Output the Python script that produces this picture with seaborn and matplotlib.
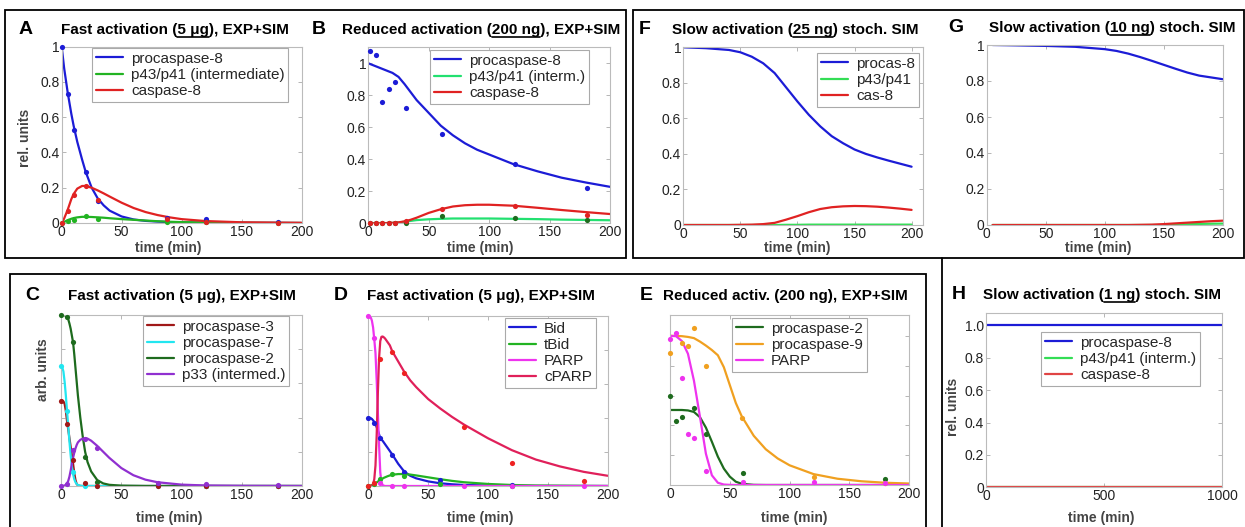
import matplotlib
matplotlib.use("Agg")
import matplotlib.pyplot as plt
import seaborn as sns
from matplotlib.lines import Line2D
from matplotlib.patches import Rectangle
from matplotlib.font_manager import FontProperties

# ---------------- DATA ----------------
# Panel A : fast activation (5 ug)
A_sim_t = [0, 2, 5, 8, 10, 13, 17, 20, 25, 30, 35, 40, 50, 60, 70, 80, 90, 100, 120, 150, 200]
A_pro8 = [1.0, 0.88, 0.74, 0.62, 0.55, 0.46, 0.36, 0.29, 0.20, 0.14, 0.10, 0.07, 0.037, 0.02, 0.012, 0.008, 0.005, 0.003, 0.002, 0.001, 0.0]
A_p43 = [0.0, 0.006, 0.016, 0.024, 0.028, 0.032, 0.035, 0.035, 0.034, 0.032, 0.03, 0.027, 0.022, 0.018, 0.014, 0.01, 0.007, 0.005, 0.003, 0.001, 0.0]
A_cas8 = [0.0, 0.025, 0.075, 0.135, 0.165, 0.195, 0.21, 0.21, 0.2, 0.185, 0.168, 0.15, 0.115, 0.085, 0.062, 0.045, 0.032, 0.022, 0.011, 0.004, 0.001]
A_exp_t = [0, 5, 10, 20, 30, 88, 120, 180]
A_pro8_exp = [1.0, 0.73, 0.53, 0.29, 0.125, 0.028, 0.02, 0.006]
A_p43_exp = [0.0, 0.01, 0.019, 0.038, 0.025, 0.005, 0.003, 0.001]
A_cas8_exp = [0.0, 0.066, 0.16, 0.21, 0.13, 0.025, 0.006, 0.002]

# Panel B : reduced activation (200 ng)
B_sim_t = [0, 10, 20, 25, 30, 35, 40, 50, 60, 70, 80, 90, 100, 120, 140, 160, 180, 200]
B_pro8 = [1.0, 0.97, 0.94, 0.915, 0.87, 0.82, 0.77, 0.69, 0.61, 0.55, 0.5, 0.46, 0.43, 0.37, 0.325, 0.285, 0.255, 0.228]
B_p43 = [0.0, 0.0, 0.002, 0.005, 0.01, 0.015, 0.02, 0.025, 0.028, 0.03, 0.03, 0.03, 0.03, 0.028, 0.026, 0.023, 0.021, 0.019]
B_cas8 = [0.0, 0.0, 0.003, 0.006, 0.012, 0.022, 0.035, 0.065, 0.088, 0.105, 0.113, 0.116, 0.116, 0.11, 0.097, 0.083, 0.07, 0.058]
B_exp_t = [1, 6, 11, 17, 22, 31, 61, 121, 181]
B_pro8_exp = [1.08, 1.055, 0.76, 0.84, 0.885, 0.72, 0.56, 0.37, 0.22]
B_p43_exp = [0.0, 0.0, 0.0, 0.0, 0.0, 0.005, 0.043, 0.032, 0.02]
B_cas8_exp = [0.0, 0.0, 0.0, 0.003, 0.003, 0.015, 0.087, 0.107, 0.052]

# Panel F : slow activation (25 ng), stochastic simulation
F_t = [0, 20, 40, 50, 60, 70, 80, 90, 100, 110, 120, 130, 140, 150, 160, 170, 180, 190, 200]
F_pro8 = [1.0, 0.995, 0.985, 0.972, 0.947, 0.91, 0.855, 0.775, 0.695, 0.62, 0.555, 0.5, 0.46, 0.425, 0.4, 0.38, 0.362, 0.345, 0.328]
F_p43 = [0, 0, 0, 0, 0, 0, 0, 0.001, 0.001, 0.002, 0.002, 0.002, 0.002, 0.002, 0.002, 0.002, 0.002, 0.002, 0.002]
F_cas8 = [0, 0, 0, 0.001, 0.002, 0.005, 0.012, 0.03, 0.05, 0.072, 0.09, 0.1, 0.105, 0.107, 0.106, 0.103, 0.098, 0.092, 0.085]

# Panel G : slow activation (10 ng), stochastic simulation
G_t = [5, 25, 50, 75, 100, 110, 120, 130, 140, 150, 160, 170, 180, 190, 200]
G_pro8 = [1.0, 0.998, 0.995, 0.99, 0.977, 0.967, 0.952, 0.933, 0.912, 0.89, 0.868, 0.847, 0.83, 0.82, 0.81]
G_p43 = [0, 0, 0, 0, 0, 0, 0, 0, 0, 0, 0.002, 0.004, 0.006, 0.007, 0.008]
G_cas8 = [0, 0, 0, 0, 0, 0, 0, 0.001, 0.002, 0.005, 0.009, 0.013, 0.017, 0.021, 0.024]

# Panel H : slow activation (1 ng), stochastic simulation
H_t = [0, 1000]
H_pro8 = [1.0, 1.0]
H_p43 = [0.0, 0.0]
H_cas8 = [0.0, 0.0]

# Panel C : fast activation (5 ug)
C_sim_t = [0, 1, 2, 3, 4, 5, 6, 7, 8, 9, 10, 11, 12, 13, 14, 16, 18, 20, 22, 25, 30, 35, 40, 50, 60, 70, 80, 100, 120, 150, 200]
C_pro3 = [0.5, 0.5, 0.495, 0.48, 0.44, 0.38, 0.33, 0.28, 0.23, 0.18, 0.13, 0.075, 0.035, 0.012, 0.004, 0.0, 0, 0, 0, 0, 0, 0, 0, 0, 0, 0, 0, 0, 0, 0, 0]
C_pro7 = [0.70, 0.695, 0.67, 0.61, 0.53, 0.44, 0.35, 0.26, 0.18, 0.115, 0.07, 0.04, 0.022, 0.012, 0.006, 0.002, 0, 0, 0, 0, 0, 0, 0, 0, 0, 0, 0, 0, 0, 0, 0]
C_pro2 = [1.0, 1.0, 1.0, 0.998, 0.995, 0.99, 0.975, 0.95, 0.92, 0.88, 0.84, 0.77, 0.69, 0.61, 0.53, 0.40, 0.29, 0.20, 0.14, 0.085, 0.035, 0.015, 0.007, 0.002, 0.001, 0, 0, 0, 0, 0, 0]
C_p33 = [0, 0, 0.001, 0.003, 0.007, 0.015, 0.03, 0.055, 0.09, 0.13, 0.165, 0.195, 0.22, 0.24, 0.255, 0.27, 0.277, 0.279, 0.277, 0.265, 0.235, 0.2, 0.165, 0.105, 0.063, 0.037, 0.022, 0.008, 0.003, 0.001, 0.0]
C_exp_t = [0, 5, 10, 20, 30, 80, 120, 180]
C_pro3_exp = [0.5, 0.365, 0.15, 0.015, 0.0, 0.0, 0.0, 0.0]
C_pro7_exp = [0.70, 0.44, 0.08, 0.0, 0.0, 0.0, 0.0, 0.0]
C_pro2_exp = [1.0, 0.99, 0.845, 0.17, 0.025, 0.005, 0.0, 0.0]
C_p33_exp = [0.0, 0.01, 0.21, 0.275, 0.22, 0.02, 0.012, 0.006]

# Panel D : fast activation (5 ug)
D_sim_t = [0, 1, 2, 3, 4, 5, 6, 7, 8, 9, 10, 11, 12, 13, 14, 16, 18, 20, 25, 30, 35, 40, 50, 60, 70, 80, 100, 120, 140, 160, 180, 200]
D_bid = [0.4, 0.4, 0.398, 0.393, 0.385, 0.375, 0.362, 0.345, 0.325, 0.303, 0.28, 0.272, 0.265, 0.255, 0.245, 0.225, 0.205, 0.185, 0.13, 0.085, 0.06, 0.045, 0.027, 0.016, 0.01, 0.006, 0.003, 0.001, 0, 0, 0, 0]
D_tbid = [0, 0.001, 0.003, 0.005, 0.008, 0.012, 0.016, 0.021, 0.026, 0.031, 0.036, 0.04, 0.044, 0.048, 0.051, 0.057, 0.062, 0.066, 0.07, 0.07, 0.067, 0.062, 0.051, 0.04, 0.03, 0.022, 0.012, 0.006, 0.003, 0.002, 0.001, 0.0]
D_parp = [1.0, 1.0, 0.99, 0.97, 0.93, 0.86, 0.78, 0.62, 0.43, 0.24, 0.08, 0.02, 0.005, 0.002, 0, 0, 0, 0, 0, 0, 0, 0, 0, 0, 0, 0, 0, 0, 0, 0, 0, 0]
D_cparp = [0, 0, 0.001, 0.003, 0.01, 0.04, 0.12, 0.3, 0.55, 0.75, 0.85, 0.875, 0.877, 0.872, 0.865, 0.845, 0.825, 0.79, 0.73, 0.67, 0.62, 0.58, 0.51, 0.455, 0.405, 0.36, 0.28, 0.21, 0.155, 0.115, 0.083, 0.06]
D_parp_exp_t = [0, 5, 10, 20, 30, 80, 120, 180]
D_parp_exp = [1.0, 0.867, 0.02, 0.0, 0.0, 0.0, 0.0, 0.0]
D_cparp_exp = [0.0, 0.016, 0.746, 0.783, 0.663, 0.344, 0.137, 0.031]
D_bid_exp_t = [0, 5, 10, 20, 30, 60, 120]
D_bid_exp = [0.4, 0.37, 0.28, 0.182, 0.08, 0.033, 0.006]
D_tbid_exp = [0.0, 0.01, 0.04, 0.068, 0.06, 0.01, 0.0]

# Panel E : reduced activation (200 ng)
E_sim_t = [0, 5, 10, 15, 20, 25, 30, 35, 40, 45, 50, 55, 60, 70, 80, 90, 100, 120, 140, 160, 180, 200]
E_pro2 = [0.503, 0.503, 0.503, 0.5, 0.49, 0.455, 0.385, 0.29, 0.19, 0.11, 0.056, 0.022, 0.008, 0.001, 0, 0, 0, 0, 0, 0, 0, 0]
E_pro9 = [1.0, 1.0, 0.998, 0.993, 0.985, 0.962, 0.935, 0.905, 0.87, 0.79, 0.67, 0.55, 0.46, 0.33, 0.24, 0.178, 0.132, 0.073, 0.042, 0.025, 0.015, 0.01]
E_parp = [1.0, 0.998, 0.965, 0.88, 0.7, 0.46, 0.21, 0.065, 0.015, 0.003, 0.001, 0, 0, 0, 0, 0, 0, 0, 0, 0, 0, 0]
E_pro2_exp_t = [0, 5, 10, 20, 30, 61, 180]
E_pro2_exp = [0.597, 0.43, 0.459, 0.515, 0.342, 0.083, 0.04]
E_pro9_exp_t = [0, 10, 15, 20, 30, 60, 120, 180]
E_pro9_exp = [0.884, 0.95, 0.935, 1.056, 0.8, 0.447, 0.056, 0.011]
E_parp_exp_t = [0, 5, 10, 15, 20, 30, 61, 120, 180]
E_parp_exp = [0.978, 1.018, 0.718, 0.34, 0.313, 0.096, 0.022, 0.022, 0.011]

# tick labels
X_TICKS_200 = [0, 50, 100, 150, 200]
X_TICKS_1000 = [0, 500, 1000]
Y_TICKS = [0, 0.2, 0.4, 0.6, 0.8, 1.0]
Y_LABELS_A = ["0", "0.2", "0.4", "0.6", "0.8", "1"]
Y_LABELS_H = ["0", "0.2", "0.4", "0.6", "0.8", "1.0"]

# ---------------- STYLE ----------------
sns.set_theme(style="white")
plt.rcParams["font.family"] = ["Liberation Sans", "DejaVu Sans"]

W, H = 1245, 527
fig = plt.figure(figsize=(W / 100, H / 100), dpi=100)
fig.patch.set_facecolor("white")

BLUE = "#1c1cd6"
GREEN = "#22b322"
MINT = "#22e070"
LGREEN = "#33dd55"
RED = "#e02222"
DKRED = "#a01818"
CYAN = "#22e6f0"
DKGREEN = "#1e6b1e"
PURPLE = "#9030d0"
MAGENTA = "#ee33ee"
CRIMSON = "#e0205a"
ORANGE = "#f0a020"

TICK_FS = 10
LEG_FS = 11
LAB_FS = 10


def px_axes(L, R, T, B):
    return fig.add_axes([L / W, 1 - B / H, (R - L) / W, (B - T) / H])


def style(ax, xlim, ylim, xticks, yticks, ylabels):
    ax.set_xlim(*xlim)
    ax.set_ylim(*ylim)
    ax.set_xticks(xticks)
    ax.set_xticklabels([str(v) for v in xticks])
    ax.set_yticks(yticks)
    if ylabels is None:
        ax.set_yticklabels([])
    else:
        ax.set_yticklabels(ylabels)
    ax.tick_params(direction="in", length=3, width=0.6, color="#aaaaaa",
                   top=True, right=True, bottom=True, left=True,
                   labelsize=TICK_FS, labelcolor="#222222", pad=1.5)
    for s in ax.spines.values():
        s.set_color("#bbbbbb")
        s.set_linewidth(0.8)
    ax.set_xlabel("")
    ax.set_ylabel("")
    ax.grid(False)
    ax.set_facecolor("white")


def sim(ax, t, y, color, label):
    sns.lineplot(x=t, y=y, ax=ax, color=color, label=label, linewidth=1.6,
                 sort=False, estimator=None)


def exp(ax, t, y, color):
    sns.scatterplot(x=t, y=y, ax=ax, color=color, s=14, edgecolor=color,
                    linewidth=0, legend=False, zorder=5, clip_on=False)


def legend(ax, x, y):
    leg = ax.legend(loc="upper left", bbox_to_anchor=(x / W, 1 - y / H),
                    bbox_transform=fig.transFigure, borderaxespad=0,
                    fontsize=LEG_FS, frameon=True, fancybox=False,
                    framealpha=1, edgecolor="#aaaaaa", handlelength=1.75,
                    handletextpad=0.55, labelspacing=0.14, borderpad=0.25)
    leg.get_frame().set_linewidth(0.8)
    return leg


fig.canvas.draw()
renderer = fig.canvas.get_renderer()


def title(xl, xt, yb, letter, pre, ul, post):
    fig.text(xl / W, 1 - yb / H, letter, fontsize=14, fontweight="bold",
             ha="left", va="baseline", color="black")
    fp = FontProperties(family=["Liberation Sans", "DejaVu Sans"], weight="bold", size=11)
    fig.text(xt / W, 1 - yb / H, pre + ul + post, fontproperties=fp,
             ha="left", va="baseline", color="black")
    if ul:
        w_pre = renderer.get_text_width_height_descent(pre, fp, ismath=False)[0]
        w_ul = renderer.get_text_width_height_descent(ul, fp, ismath=False)[0]
        x0 = xt + w_pre
        x1 = x0 + w_ul
        yy = 1 - (yb + 2.5) / H
        fig.add_artist(Line2D([x0 / W, x1 / W], [yy, yy], transform=fig.transFigure,
                              color="black", linewidth=1.2))


def xlab(xc, yc, text="time (min)"):
    fig.text(xc / W, 1 - yc / H, text, fontsize=LAB_FS, fontweight="bold",
             color="#444444", ha="center", va="center")


def ylab(xc, yc, text):
    fig.text(xc / W, 1 - yc / H, text, fontsize=LAB_FS, fontweight="bold",
             color="#444444", ha="center", va="center", rotation=90)


# ---------------- PANEL A ----------------
ax = px_axes(61.7, 301.5, 46.7, 223.0)
sim(ax, A_sim_t, A_pro8, BLUE, "procaspase-8")
sim(ax, A_sim_t, A_p43, GREEN, "p43/p41 (intermediate)")
sim(ax, A_sim_t, A_cas8, RED, "caspase-8")
exp(ax, A_exp_t, A_pro8_exp, BLUE)
exp(ax, A_exp_t, A_p43_exp, GREEN)
exp(ax, A_exp_t, A_cas8_exp, RED)
style(ax, (0, 200), (0, 1), X_TICKS_200, Y_TICKS, Y_LABELS_A)
legend(ax, 92, 48)
title(19, 61, 34, "A", "Fast activation (", "5 \u03bcg", "), EXP+SIM")
xlab(168, 248)
ylab(25, 138, "rel. units")

# ---------------- PANEL B ----------------
ax = px_axes(368.3, 610.0, 47.3, 223.3)
sim(ax, B_sim_t, B_pro8, BLUE, "procaspase-8")
sim(ax, B_sim_t, B_p43, MINT, "p43/p41 (interm.)")
sim(ax, B_sim_t, B_cas8, RED, "caspase-8")
exp(ax, B_exp_t, B_pro8_exp, BLUE)
exp(ax, B_exp_t, B_p43_exp, DKGREEN)
exp(ax, B_exp_t, B_cas8_exp, RED)
style(ax, (0, 200), (0, 1.1), X_TICKS_200, Y_TICKS, Y_LABELS_A)
legend(ax, 430, 50)
title(312, 342, 34, "B", "Reduced activation (", "200 ng", "), EXP+SIM")
xlab(480, 248)

# ---------------- PANEL F ----------------
ax = px_axes(683.3, 923.0, 47.3, 225.0)
sim(ax, F_t, F_pro8, BLUE, "procas-8")
sim(ax, F_t, F_p43, LGREEN, "p43/p41")
sim(ax, F_t, F_cas8, RED, "cas-8")
style(ax, (0, 210), (0, 1), X_TICKS_200, Y_TICKS, Y_LABELS_A)
legend(ax, 817, 53)
title(639, 672, 34, "F", "Slow activation (", "25 ng", ") stoch. SIM")
xlab(797, 248)

# ---------------- PANEL G ----------------
ax = px_axes(986.7, 1222.7, 45.0, 225.0)
sim(ax, G_t, G_pro8, BLUE, "procas-8")
sim(ax, G_t, G_p43, LGREEN, "p43/p41")
sim(ax, G_t, G_cas8, RED, "cas-8")
style(ax, (0, 200), (0, 1), X_TICKS_200, Y_TICKS, Y_LABELS_A)
ax.get_legend().remove()
title(948, 989, 32, "G", "Slow activation (", "10 ng", ") stoch. SIM")
xlab(1098, 248)

# ---------------- PANEL C ----------------
ax = px_axes(61.0, 302.3, 315.0, 486.0)
sim(ax, C_sim_t, C_pro3, DKRED, "procaspase-3")
sim(ax, C_sim_t, C_pro7, CYAN, "procaspase-7")
sim(ax, C_sim_t, C_pro2, DKGREEN, "procaspase-2")
sim(ax, C_sim_t, C_p33, PURPLE, "p33 (intermed.)")
exp(ax, C_exp_t, C_pro2_exp, DKGREEN)
exp(ax, C_exp_t, C_pro7_exp, CYAN)
exp(ax, C_exp_t, C_pro3_exp, DKRED)
exp(ax, C_exp_t, C_p33_exp, PURPLE)
style(ax, (0, 200), (0, 1), X_TICKS_200, Y_TICKS, None)
legend(ax, 143, 316)
title(25, 68, 300, "C", "Fast activation (5 \u03bcg), EXP+SIM", "", "")
xlab(169, 518)
ylab(43, 370, "arb. units")

# ---------------- PANEL D ----------------
ax = px_axes(368.3, 607.7, 315.5, 486.0)
sim(ax, D_sim_t, D_bid, BLUE, "Bid")
sim(ax, D_sim_t, D_tbid, GREEN, "tBid")
sim(ax, D_sim_t, D_parp, MAGENTA, "PARP")
sim(ax, D_sim_t, D_cparp, CRIMSON, "cPARP")
exp(ax, D_bid_exp_t, D_bid_exp, BLUE)
exp(ax, D_bid_exp_t, D_tbid_exp, GREEN)
exp(ax, D_parp_exp_t, D_parp_exp, MAGENTA)
exp(ax, D_parp_exp_t, D_cparp_exp, "#ee2222")
style(ax, (0, 200), (0, 1), X_TICKS_200, Y_TICKS, None)
legend(ax, 505, 318)
title(334, 367, 300, "D", "Fast activation (5 \u03bcg), EXP+SIM", "", "")
xlab(480, 518)

# ---------------- PANEL E ----------------
ax = px_axes(670.0, 909.3, 315.0, 485.0)
sim(ax, E_sim_t, E_pro2, DKGREEN, "procaspase-2")
sim(ax, E_sim_t, E_pro9, ORANGE, "procaspase-9")
sim(ax, E_sim_t, E_parp, MAGENTA, "PARP")
exp(ax, E_pro2_exp_t, E_pro2_exp, DKGREEN)
exp(ax, E_pro9_exp_t, E_pro9_exp, ORANGE)
exp(ax, E_parp_exp_t, E_parp_exp, MAGENTA)
style(ax, (0, 200), (0, 1.14), X_TICKS_200, Y_TICKS, None)
legend(ax, 732, 318)
title(640, 663, 300, "E", "Reduced activ. (200 ng), EXP+SIM", "", "")
xlab(794, 518)

# ---------------- PANEL H ----------------
ax = px_axes(986.0, 1222.3, 313.3, 487.3)
sim(ax, H_t, H_pro8, BLUE, "procaspase-8")
sim(ax, H_t, H_p43, LGREEN, "p43/p41 (interm.)")
sim(ax, H_t, H_cas8, "#e04444", "caspase-8")
style(ax, (0, 1000), (0, 1.075), X_TICKS_1000, Y_TICKS, Y_LABELS_H)
legend(ax, 1041, 332)
title(952, 983, 299, "H", "Slow activation (", "1 ng", ") stoch. SIM")
xlab(1101, 518)
ylab(953, 407, "rel. units")

# ---------------- FRAMES ----------------
def frame(x0, y0, x1, y1):
    fig.add_artist(Rectangle((x0 / W, 1 - y1 / H), (x1 - x0) / W, (y1 - y0) / H,
                             transform=fig.transFigure, fill=False,
                             edgecolor="black", linewidth=1.3))


def vline(x, y0, y1):
    fig.add_artist(Line2D([x / W, x / W], [1 - y0 / H, 1 - y1 / H],
                          transform=fig.transFigure, color="black", linewidth=1.3))


frame(5, 10, 626, 258)
frame(633, 10, 1244, 258)
frame(10, 274, 926, 540)
vline(942, 258, 527)

fig.savefig("out.png", dpi=100, facecolor="white")
